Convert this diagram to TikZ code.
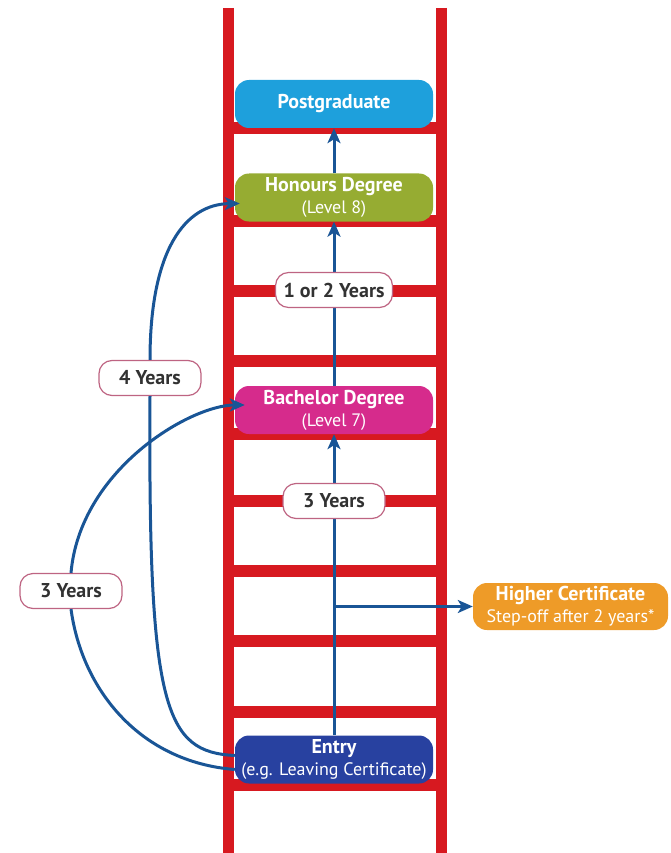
\documentclass[tikz,border=0pt]{standalone}
\usepackage{fontspec}
\setmainfont{PT Sans}
\usetikzlibrary{arrows.meta}
\definecolor{ladderred}{RGB}{215,25,32}
\definecolor{postcol}{RGB}{30,160,220}
\definecolor{honscol}{RGB}{150,172,50}
\definecolor{bachcol}{RGB}{214,43,140}
\definecolor{entrycol}{RGB}{40,65,160}
\definecolor{certcol}{RGB}{238,155,40}
\definecolor{routecol}{RGB}{25,85,150}
\definecolor{yearedge}{RGB}{190,100,130}
\definecolor{yeartext}{RGB}{50,50,50}
\newcommand{\stagetitle}[1]{{\fontsize{20}{22}\selectfont\bfseries #1}}
\tikzstyle{rail} = [draw=ladderred, line width=11pt]
\tikzstyle{rung} = [draw=ladderred, line width=12pt]
\tikzstyle{stagebox} = [rectangle, rounded corners=14pt, text=white, align=center, minimum width=198pt, minimum height=48pt, inner sep=2pt, font=\fontsize{18}{22}\selectfont]
\tikzstyle{yearbox} = [rectangle, draw=yearedge, line width=1.2pt, fill=white, rounded corners=13pt, text=yeartext, minimum width=102pt, minimum height=35pt, inner xsep=8pt, font=\fontsize{20}{22}\selectfont\bfseries]
\tikzstyle{route} = [draw=routecol, line width=3pt, -{Stealth[length=15pt,width=13pt,inset=4pt]}]
\tikzstyle{routeline} = [draw=routecol, line width=3pt]

\begin{document}
\begin{tikzpicture}[x=1pt, y=-1pt]
				\useasboundingbox (0,0) rectangle (670,853);
				% ladder
				\draw[rail] (228,8) -- (228,853);
				\draw[rail] (441,8) -- (441,853);
				\draw[rung] (228,128) -- (441,128);
				\draw[rung] (228,221) -- (441,221);
				\draw[rung] (228,291) -- (441,291);
				\draw[rung] (228,361) -- (441,361);
				\draw[rung] (228,434) -- (441,434);
				\draw[rung] (228,501) -- (441,501);
				\draw[rung] (228,571) -- (441,571);
				\draw[rung] (228,641) -- (441,641);
				\draw[rung] (228,712) -- (441,712);
				\draw[rung] (228,785) -- (441,785);
				% stages
				\node[stagebox, fill=postcol] (post) at (334,104) {\stagetitle{Postgraduate}};
				\node[stagebox, fill=honscol, below of=post, node distance=93.5pt] (hons) {\stagetitle{Honours Degree}\\(Level 8)};
				\node[stagebox, fill=bachcol, below of=hons, node distance=212.5pt] (bach) {\stagetitle{Bachelor Degree}\\(Level 7)};
				\node[stagebox, fill=entrycol, below of=bach, node distance=349.5pt] (entry) {\stagetitle{Entry}\\(e.g. Leaving Certificate)};
				\node[stagebox, fill=certcol, minimum width=195pt, minimum height=47pt] (cert) at (570.5,606.5) {\stagetitle{Higher Certificate}\\Step-off after 2 years*};
				% routes
				\draw[route] (entry.north) -- (bach.south);
				\draw[route] (bach.north) -- (hons.south);
				\draw[route] (hons.north) -- (post.south);
				\draw[route] (entry.north |- cert.west) -- (cert.west);
				\node[yearbox] (four) at (150,378) {4 Years};
				\node[yearbox] (threeleft) at (71,591) {3 Years};
				\node[yearbox] (oneortwo) at (334,290) {1 or 2 Years};
				\node[yearbox] (three) at (334,501) {3 Years};
				\draw[routeline] ([yshift=4pt]entry.west) .. controls (165,752) and (148,710) .. (four.south);
				\draw[route] (four.north) .. controls (150,250) and (185,204) .. ([xshift=5pt,yshift=-6pt]hons.west);
				\draw[routeline] ([yshift=-10pt]entry.west) .. controls (140,762) and (82,690) .. (threeleft.south);
				\draw[route] (threeleft.north) .. controls (80,470) and (190,405) .. ([xshift=10pt,yshift=5pt]bach.west);
			\end{tikzpicture}
\end{document}
